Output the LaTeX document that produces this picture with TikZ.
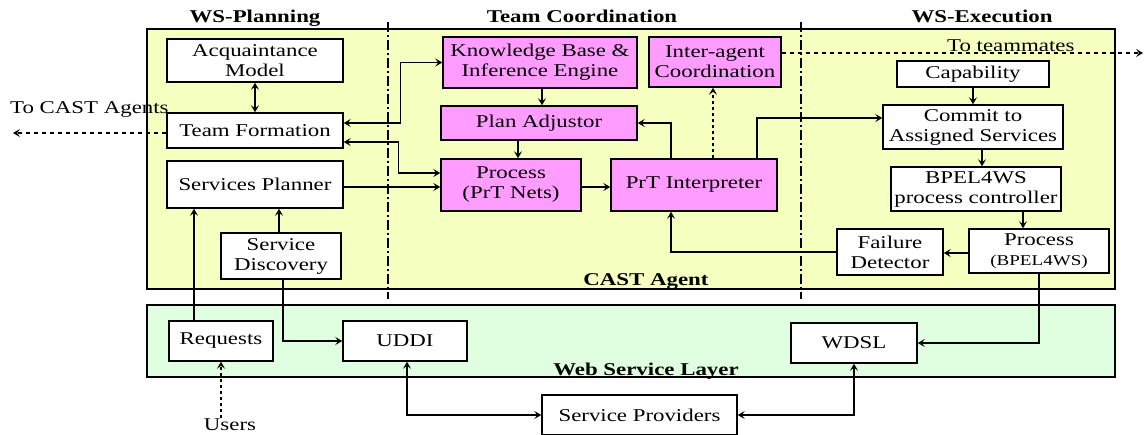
\documentclass[tikz,border=0pt]{standalone}
\usepackage{fontspec}
\setmainfont{Liberation Serif}[FakeStretch=1.27]
\usetikzlibrary{arrows.meta}
\definecolor{agentyellow}{RGB}{245,255,192}
\definecolor{wsgreen}{RGB}{224,255,224}
\definecolor{kpink}{RGB}{255,156,255}
\tikzset{
  every node/.style={font=\fontsize{18}{20}\selectfont},
  bx/.style={draw, line width=1.5pt, fill=white, inner sep=0pt, align=center},
  pk/.style={bx, fill=kpink},
  ttl/.style={font=\fontsize{18}{20}\selectfont\bfseries, anchor=base, inner sep=0pt},
  lbl/.style={anchor=base west, inner sep=0pt},
  tip/.style={Stealth[length=7pt,width=8pt,inset=3pt]},
  conn/.style={line width=1.4pt, -{Stealth[length=7pt,width=8pt,inset=3pt]}},
  bconn/.style={line width=1.4pt, {Stealth[length=7pt,width=8pt,inset=3pt]}-{Stealth[length=7pt,width=8pt,inset=3pt]}},
  dconn/.style={conn, dash pattern=on 4pt off 4pt},
  sep/.style={line width=1.4pt, dash pattern=on 10pt off 3pt on 2pt off 3pt},
  container/.style={draw, line width=1.5pt}
}
\begin{document}
\begin{tikzpicture}[x=1pt,y=-1pt]
\clip (0,0) rectangle (1145,434);
% containers
\draw[container, fill=agentyellow] (147,29) rectangle (1115,289);
\draw[container, fill=wsgreen] (147,305) rectangle (1115,377);
\draw[sep] (388,22) -- (388,299);
\draw[sep] (801,22) -- (801,299);
% titles
\node[ttl] (t1) at (255,22) {WS-Planning};
\node[ttl] (t2) at (582,22) {Team Coordination};
\node[ttl] (t3) at (982,22) {WS-Execution};
\node[ttl] (t4) at (646,285) {CAST Agent};
\node[ttl] (t5) at (646,375) {Web Service Layer};
% WS-Planning
\node[bx, minimum width=176pt, minimum height=43pt] (acq) at (255,60.5) {Acquaintance\\Model};
\node[bx, minimum width=176pt, minimum height=35pt] (team) at (255,130.5) {Team Formation};
\node[bx, minimum width=176pt, minimum height=47pt] (planner) at (255,184.5) {Services Planner};
\node[bx, minimum width=120pt, minimum height=46pt] (disc) at (281,256) {Service\\Discovery};
% Team coordination
\node[pk, minimum width=194pt, minimum height=51pt] (kb) at (540,62.5) {Knowledge Base \&\\Inference Engine};
\node[pk, minimum width=132pt, minimum height=50pt] (inter) at (715,62) {Inter-agent\\Coordination};
\node[pk, minimum width=196pt, minimum height=34pt] (adj) at (539,123) {Plan Adjustor};
\node[pk, minimum width=140pt, minimum height=52pt] (proc) at (511,185) {Process\\(PrT Nets)};
\node[pk, minimum width=166pt, minimum height=52pt] (prt) at (694,185) {PrT Interpreter};
% WS-Execution
\node[bx, minimum width=152pt, minimum height=26pt] (cap) at (973,74) {Capability};
\node[bx, minimum width=180pt, minimum height=44pt] (commit) at (973,127) {Commit to\\Assigned Services};
\node[bx, minimum width=170pt, minimum height=44pt] (bpel) at (976,189) {BPEL4WS\\process controller};
\node[bx, minimum width=106pt, minimum height=46pt] (fail) at (890,252) {Failure\\Detector};
\node[bx, minimum width=140pt, minimum height=44pt] (pbpel) at (1039,251) {Process\\{\fontsize{15}{18}\selectfont(BPEL4WS)}};
% Web service layer
\node[bx, minimum width=104pt, minimum height=40pt] (req) at (221,341) {Requests};
\node[bx, minimum width=124pt, minimum height=40pt] (uddi) at (405,341) {UDDI};
\node[bx, minimum width=126pt, minimum height=40pt] (wdsl) at (854,343) {WDSL};
\node[bx, minimum width=195pt, minimum height=40pt] (sp) at (639.5,415) {Service Providers};
% free labels
\node[lbl] (lca) at (10,113) {To CAST Agents};
\node[lbl] (ltm) at (947,51) {To teammates};
\node[anchor=base, inner sep=0pt] (users) at (230,430) {Users};
\coordinate (ca) at (13,133);
\coordinate (tm) at (1143,53);
% connectors
\draw[bconn] (acq.south) -- (team.north);
\draw[bconn] ([yshift=7.5pt]team.east) -- ++(57,0) |- (kb.west);
\draw[bconn] ([yshift=-11.5pt]team.east) -- ++(55,0) |- ([yshift=12pt]proc.west);
\draw[conn] ([yshift=-2.5pt]planner.east) -- ([yshift=-2.5pt]planner.east -| proc.west);
\draw[conn] ([xshift=2pt]kb.south) -- ([xshift=2pt]kb.south |- adj.north);
\draw[conn] ([xshift=-21pt]adj.south) -- ([xshift=-21pt]adj.south |- proc.north);
\draw[conn] ([yshift=-2pt]proc.east) -- ([yshift=-2pt]prt.west);
\draw[conn] ([xshift=-23pt]prt.north) |- (adj.east);
\draw[dconn, dash pattern=on 3pt off 3pt] ([xshift=19pt]prt.north) -- ([xshift=19pt]prt.north |- inter.south);
\draw[conn] ([xshift=63pt]prt.north) |- ([yshift=9pt]commit.west);
\draw[conn] (cap.south) -- (commit.north);
\draw[conn] ([xshift=9pt]commit.south) -- ([xshift=9pt]commit.south |- bpel.north);
\draw[conn] ([xshift=47pt]bpel.south) -- ([xshift=47pt]bpel.south |- pbpel.north);
\draw[conn] ([yshift=-2pt]pbpel.west) -- ([yshift=-2pt]pbpel.west -| fail.east);
\draw[conn] (fail.west) -| ([xshift=-23pt]prt.south);
\draw[dconn] ([yshift=9pt]inter.east) -- (tm);
\draw[dconn] ([yshift=-2.5pt]team.west) -- (ca);
\draw[conn] ([xshift=-27pt]req.north) -- ([xshift=-27pt]req.north |- planner.south);
\draw[conn] ([xshift=-2pt]disc.north) -- ([xshift=-2pt]disc.north |- planner.south);
\draw[conn] ([xshift=2pt]disc.south) |- (uddi.west);
\draw[conn, dash pattern=on 3pt off 3pt] ([xshift=-9pt]users.north) -- ([xshift=-9pt]users.north |- req.south);
\draw[bconn] ([xshift=2pt]uddi.south) |- (sp.west);
\draw[bconn] (wdsl.south) |- (sp.east);
\draw[conn] (pbpel.south) |- (wdsl.east);
\end{tikzpicture}
\end{document}
